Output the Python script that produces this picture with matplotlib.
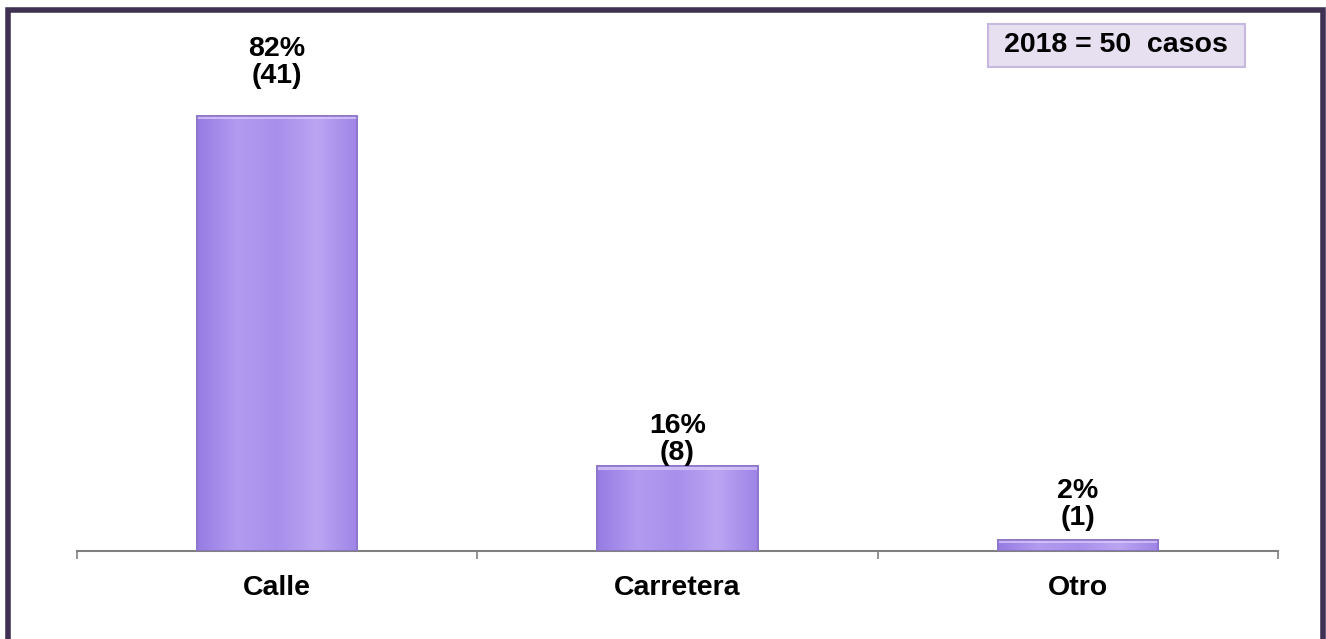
#!/usr/bin/env python3

"""Bar chart of cases by place (2018), recreated from a report figure."""

import matplotlib
matplotlib.use('Agg')
import matplotlib.pyplot as plt
import matplotlib.patches as mpatches
from matplotlib.colors import LinearSegmentedColormap
from matplotlib.lines import Line2D
import numpy as np

categories = ['Calle', 'Carretera', 'Otro']
percentages = [82, 16, 2]
counts = [41, 8, 1]
total_label = '2018 = 50  casos'

W, H = 1326, 639
plt.rcParams['font.family'] = ['Liberation Sans', 'DejaVu Sans']
FS = 20.5

fig = plt.figure(figsize=(W / 100, H / 100), dpi=100)
fig.patch.set_facecolor('white')
ax = fig.add_axes([77 / W, 1 - 551 / H, (1278 - 77) / W, 531 / H])

x = np.arange(len(categories))
bars = ax.bar(x, percentages, width=0.4, color='#a68be9',
              edgecolor='#8c74c9', linewidth=1.2, zorder=2)

# horizontal sheen across each bar, clipped to the bar shape
sheen = LinearSegmentedColormap.from_list(
    'sheen', ['#967be3', '#b39bf0', '#a88fec', '#bba5f2', '#9e84e7'])
grad = np.linspace(0, 1, 256).reshape(1, -1)
for b in bars:
    x0, y0 = b.get_x(), b.get_y()
    w, h = b.get_width(), b.get_height()
    im = ax.imshow(grad, cmap=sheen, aspect='auto', zorder=2.5,
                   extent=[x0, x0 + w, y0, y0 + h], interpolation='bicubic')
    im.set_clip_path(b)
    # light bevel along the top edge
    bev = min(0.7, h * 0.2)
    ax.add_patch(mpatches.Rectangle((x0, y0 + h - bev), w, bev,
                                    facecolor='#dccff9', edgecolor='none',
                                    alpha=0.7, zorder=2.6))
    ax.add_patch(mpatches.Rectangle((x0, y0), w, h, facecolor='none',
                                    edgecolor='#8c74c9', linewidth=1.2,
                                    zorder=2.7))

# data labels (offsets in points, the original ones were placed by hand)
label_offsets = [19, 0, 7]
for xi, pct, n, off in zip(x, percentages, counts, label_offsets):
    ax.annotate('{p}%\n({n})'.format(p=pct, n=n), (xi, pct),
                xytext=(0, off), textcoords='offset points',
                ha='center', va='bottom', fontsize=FS, fontweight='bold',
                linespacing=1.05, zorder=3)

ax.set_xlim(-0.5, len(categories) - 0.5)
ax.set_ylim(0, 100)
ax.set_xticks(x)
ax.set_xticklabels(categories, fontsize=FS, fontweight='bold')
ax.set_xticks(np.arange(len(categories) + 1) - 0.5, minor=True)
ax.tick_params(axis='x', which='major', length=0, pad=17)
ax.tick_params(axis='x', which='minor', length=6, width=1.2, color='#808080')
ax.set_yticks([])
for side in ['left', 'right', 'top']:
    ax.spines[side].set_visible(False)
ax.spines['bottom'].set_color('#808080')
ax.spines['bottom'].set_linewidth(1.5)
ax.patch.set_alpha(0)

# dark purple frame (left, top, right)
lx, rx, ty = 7.5 / W, 1322.5 / W, 1 - 9.5 / H
fig.add_artist(Line2D([lx, lx, rx, rx], [0, ty, ty, 0],
                      color='#3f3151', linewidth=4, solid_joinstyle='miter'))

# total box at top right
fig.add_artist(mpatches.Rectangle((988 / W, 1 - 67 / H), (1245 - 988) / W,
                                  43 / H, facecolor='#e7e0f1',
                                  edgecolor='#c6b8de', linewidth=1.5))
fig.text(1116 / W, 1 - 45.5 / H, total_label, ha='center', va='center',
         fontsize=FS, fontweight='bold')

fig.savefig('out.png', dpi=100)
